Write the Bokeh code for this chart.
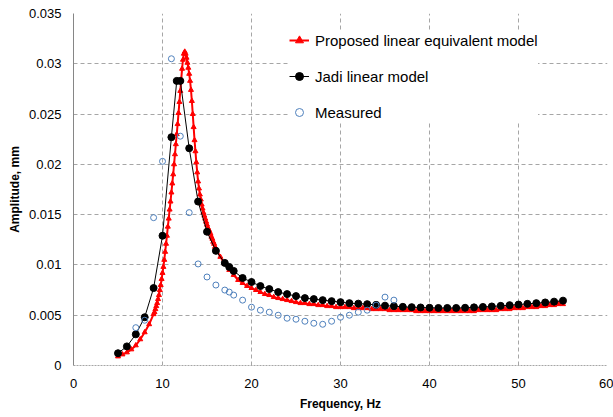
from bokeh.plotting import figure
from bokeh.models import FixedTicker, Legend, LegendItem, Range1d
from bokeh.embed import file_html
from bokeh.resources import INLINE

# ---- data ----
red_freq = [5.0, 5.5, 6.0, 6.5, 7.0, 7.5, 8.0, 8.5,
            9.0, 9.1, 9.2, 9.3, 9.4, 9.5, 9.6, 9.7, 9.8, 9.9,
            10.0, 10.1, 10.2, 10.3, 10.4, 10.5, 10.6, 10.7, 10.8, 10.9,
            11.0, 11.1, 11.2, 11.3, 11.4, 11.5, 11.6, 11.7, 11.8, 11.9,
            12.0, 12.1, 12.2, 12.3, 12.4, 12.5, 12.6, 12.7, 12.8, 12.9,
            13.0, 13.1, 13.2, 13.3, 13.4, 13.5, 13.6, 13.7, 13.8, 13.9,
            14.0, 14.1, 14.2, 14.3, 14.4, 14.5, 14.6, 14.7, 14.8, 14.9,
            15.0, 15.1, 15.2, 15.3, 15.4, 15.5, 15.6, 15.7, 15.8, 15.9,
            16.0, 16.5, 17.0, 17.5, 18.0, 18.5, 19.0, 19.5,
            20.0, 20.5, 21.0, 21.5, 22.0, 22.5, 23.0, 23.5, 24.0, 24.5,
            25.0, 25.5, 26.0, 26.5, 27.0, 27.5, 28.0, 28.5, 29.0, 29.5,
            30.0, 30.5, 31.0, 31.5, 32.0, 32.5, 33.0, 33.5, 34.0, 34.5,
            35.0, 35.5, 36.0, 36.5, 37.0, 37.5, 38.0, 38.5, 39.0, 39.5,
            40.0, 40.5, 41.0, 41.5, 42.0, 42.5, 43.0, 43.5, 44.0, 44.5,
            45.0, 45.5, 46.0, 46.5, 47.0, 47.5, 48.0, 48.5, 49.0, 49.5,
            50.0, 50.5, 51.0, 51.5, 52.0, 52.5, 53.0, 53.5, 54.0, 54.5, 55.0]
red_amp = [0.0009, 0.0011, 0.0013, 0.0016, 0.0020, 0.0026, 0.0033, 0.0041,
           0.0051, 0.0053, 0.0056, 0.0059, 0.0062, 0.0066, 0.0070, 0.0075, 0.0080, 0.0086,
           0.0092, 0.0098, 0.0105, 0.0113, 0.0121, 0.0129, 0.0138, 0.0146, 0.0155, 0.0163,
           0.0172, 0.0181, 0.0190, 0.0200, 0.0210, 0.0220, 0.0230, 0.0240, 0.0251, 0.0262,
           0.0273, 0.0284, 0.0295, 0.0304, 0.0310, 0.0312, 0.0310, 0.0306, 0.0301, 0.0296,
           0.0290, 0.0283, 0.0274, 0.0263, 0.0250, 0.0237, 0.0224, 0.0213, 0.0202, 0.0192,
           0.0183, 0.0176, 0.0170, 0.0165, 0.0160, 0.0156, 0.0152, 0.0149, 0.0146, 0.0143,
           0.0140, 0.0137, 0.0135, 0.0133, 0.0131, 0.0128, 0.0126, 0.0123, 0.0121, 0.0118,
           0.0116, 0.0108, 0.0101, 0.0095, 0.0090, 0.0085, 0.0082, 0.0079,
           0.0077, 0.0075, 0.0073, 0.0071, 0.0070, 0.0068, 0.0067, 0.0066, 0.0065, 0.0064,
           0.0063, 0.0062, 0.0062, 0.0061, 0.0061, 0.0060, 0.0060, 0.0059, 0.0059, 0.0058,
           0.0058, 0.0058, 0.0058, 0.0057, 0.0057, 0.0057, 0.0057, 0.0056, 0.0056, 0.0056,
           0.0056, 0.0055, 0.0055, 0.0055, 0.0055, 0.0055, 0.0055, 0.0054, 0.0054, 0.0054,
           0.0054, 0.0054, 0.0054, 0.0054, 0.0054, 0.0054, 0.0054, 0.0054, 0.0054, 0.0054,
           0.0054, 0.0055, 0.0055, 0.0055, 0.0055, 0.0055, 0.0056, 0.0056, 0.0056, 0.0057,
           0.0057, 0.0057, 0.0058, 0.0058, 0.0058, 0.0059, 0.0059, 0.0060, 0.0060, 0.0061, 0.0061]

jadi_freq = [5, 6, 7, 8, 9, 10, 11, 11.6, 12, 13, 14, 15, 16, 17, 17.5, 18, 19,
             20, 21, 22, 23, 24, 25, 26, 27, 28, 29, 30, 31, 32, 33, 34, 35, 36, 37,
             38, 39, 40, 41, 42, 43, 44, 45, 46, 47, 48, 49, 50, 51, 52, 53, 54, 55]
jadi_amp = [0.00122, 0.0019, 0.0031, 0.0048, 0.0077, 0.0129, 0.0227, 0.0283, 0.0283,
            0.0216, 0.0163, 0.0133, 0.0114, 0.0102, 0.0098, 0.0094, 0.0087,
            0.0083, 0.0079, 0.0076, 0.0073, 0.0071, 0.0069, 0.0067, 0.0066, 0.0065,
            0.0064, 0.0063, 0.0062, 0.00615, 0.0061, 0.00603, 0.00595, 0.0059, 0.00583,
            0.0058, 0.00577, 0.00574, 0.00572, 0.00572, 0.00572, 0.00574, 0.00578,
            0.00582, 0.00587, 0.00593, 0.0060, 0.00606, 0.00613, 0.0062, 0.00627,
            0.00635, 0.00645]

meas_freq = [7, 8, 9, 10, 11, 12, 13, 14, 15, 16, 17, 17.5, 18, 19, 20, 21, 22, 23,
             24, 25, 26, 27, 28, 29, 30, 31, 32, 33, 34, 35, 36]
meas_amp = [0.00376, 0.0045, 0.0147, 0.0203, 0.0305, 0.0228, 0.0152, 0.0101, 0.0088,
            0.0080, 0.0075, 0.0073, 0.0070, 0.0065, 0.0058, 0.0055, 0.0053, 0.0050,
            0.0047, 0.0046, 0.0044, 0.0042, 0.0041, 0.0044, 0.0048, 0.0050, 0.0053,
            0.0055, 0.0060, 0.0068, 0.0065]

x_ticks = [0, 10, 20, 30, 40, 50, 60]
x_tick_labels = ["0", "10", "20", "30", "40", "50", "60"]
y_ticks = [0, 0.005, 0.01, 0.015, 0.02, 0.025, 0.03, 0.035]
y_tick_labels = ["0", "0.005", "0.01", "0.015", "0.02", "0.025", "0.03", "0.035"]

series_names = ["Proposed linear equivalent model", "Jadi linear model", "Measured"]

# ---- figure ----
p = figure(width=613, height=417, output_backend="svg", toolbar_location=None,
           x_range=Range1d(0, 60), y_range=Range1d(0, 0.035),
           min_border_left=73, min_border_right=6, min_border_top=13,
           min_border_bottom=52)
p.outline_line_color = None
p.background_fill_color = "white"

font = "Liberation Sans"
grid_col = "#A6A6A6"

p.xaxis.ticker = FixedTicker(ticks=x_ticks)
p.yaxis.ticker = FixedTicker(ticks=y_ticks)
p.xaxis.major_label_overrides = {t: l for t, l in zip(x_ticks, x_tick_labels)}
p.yaxis.major_label_overrides = {t: l for t, l in zip(y_ticks, y_tick_labels)}

for ax in (p.xaxis[0], p.yaxis[0]):
    ax.major_tick_line_color = None
    ax.minor_tick_line_color = None
    ax.major_tick_out = 0
    ax.major_tick_in = 0
    ax.minor_tick_out = 0
    ax.minor_tick_in = 0
    ax.major_label_text_font = font
    ax.major_label_text_font_size = "13px"
    ax.major_label_text_color = "#000000"
    ax.axis_label_text_font = font
    ax.axis_label_text_font_size = "12px"
    ax.axis_label_text_font_style = "bold"
    ax.axis_label_text_color = "#000000"

p.xaxis.axis_label = "Frequency, Hz"
p.yaxis.axis_label = "Amplitude, mm"
p.xaxis.major_label_standoff = 13
p.xaxis.axis_label_standoff = 6
p.yaxis.major_label_standoff = 12
p.yaxis.axis_label_standoff = 4

p.yaxis.axis_line_color = "#868686"
p.yaxis.axis_line_width = 1
p.xaxis.axis_line_color = grid_col
p.xaxis.axis_line_dash = "2 1"

for g in (p.xgrid[0], p.ygrid[0]):
    g.grid_line_color = grid_col
    g.grid_line_dash = "4 3"
    g.grid_line_width = 1

# ---- series ----
r_red_line = p.line(red_freq, red_amp, line_color="#FF0000", line_width=2)
r_red_pts = p.scatter(red_freq, red_amp, marker="triangle", size=5,
                      fill_color="#FF0000", line_color="#FF0000")
r_blk_line = p.line(jadi_freq, jadi_amp, line_color="black", line_width=1)
r_blk_pts = p.scatter(jadi_freq, jadi_amp, marker="circle", size=7,
                      fill_color="black", line_color="black")
r_meas = p.scatter(meas_freq, meas_amp, marker="circle", size=6,
                   fill_color=None, line_color="#4F81BD", line_width=1)

legend = Legend(items=[
    LegendItem(label=series_names[0], renderers=[r_red_line, r_red_pts]),
    LegendItem(label=series_names[1], renderers=[r_blk_line, r_blk_pts]),
    LegendItem(label=series_names[2], renderers=[r_meas]),
], location=(216, 243))
legend.label_text_font = font
legend.label_text_font_size = "15px"
legend.label_text_color = "#000000"
legend.glyph_width = 20
legend.glyph_height = 20
legend.label_height = 20
legend.spacing = 16
legend.padding = 10
legend.margin = 0
legend.label_standoff = 6
legend.border_line_color = None
legend.background_fill_color = "white"
legend.background_fill_alpha = 1.0
p.add_layout(legend)

open("out.html", "w").write(file_html(p, INLINE))
